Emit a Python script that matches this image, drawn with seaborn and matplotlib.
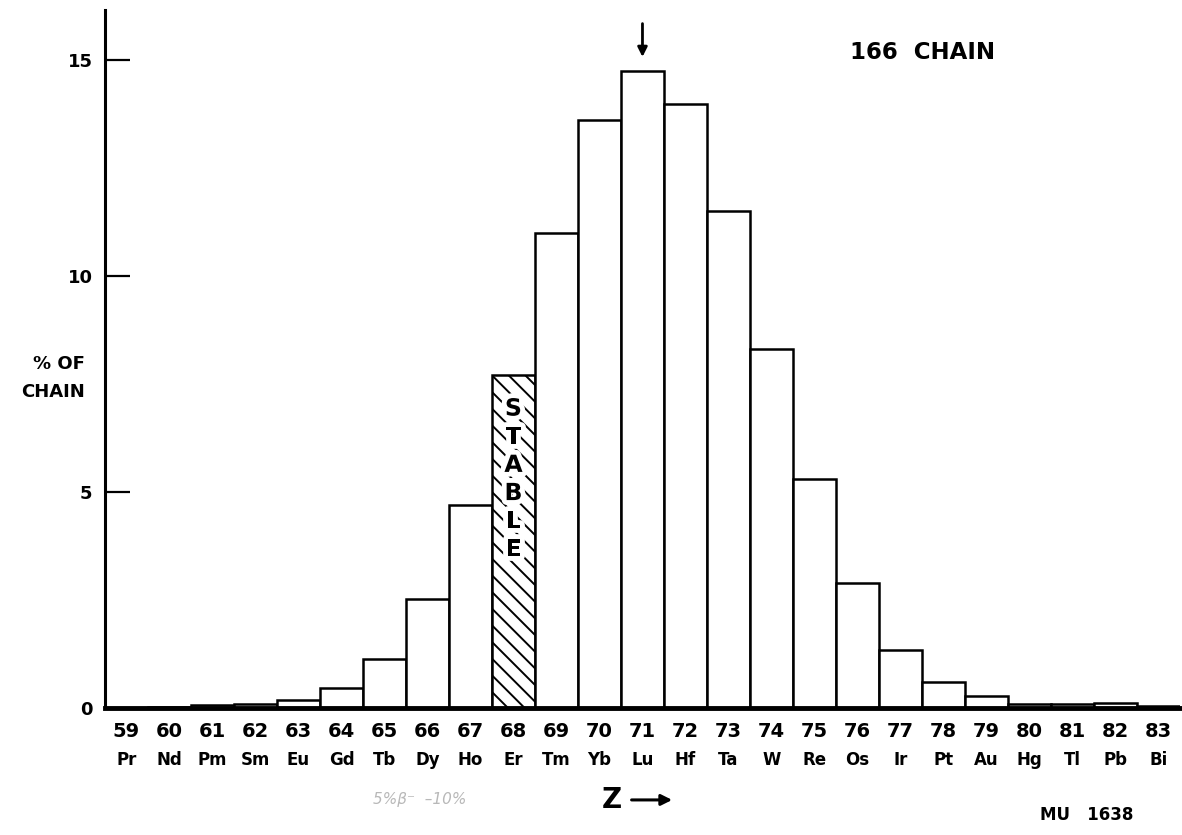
import matplotlib
matplotlib.use("Agg")
import matplotlib.pyplot as plt
import matplotlib.patheffects as pe
import seaborn as sns
import pandas as pd

# data
z_numbers = ["59", "60", "61", "62", "63", "64", "65", "66", "67", "68", "69", "70", "71",
             "72", "73", "74", "75", "76", "77", "78", "79", "80", "81", "82", "83"]
elements = ["Pr", "Nd", "Pm", "Sm", "Eu", "Gd", "Tb", "Dy", "Ho", "Er", "Tm", "Yb", "Lu",
            "Hf", "Ta", "W", "Re", "Os", "Ir", "Pt", "Au", "Hg", "Tl", "Pb", "Bi"]
percent_of_chain = [0.01, 0.02, 0.06, 0.10, 0.18, 0.47, 1.14, 2.53, 4.70, 7.70, 11.0, 13.6, 14.75,
                    13.98, 11.5, 8.3, 5.3, 2.9, 1.35, 0.6, 0.28, 0.10, 0.10, 0.12, 0.05]
y_ticks = [0, 5, 10, 15]
stable_element = "Er"
peak_element = "Lu"

sns.set_theme(style="white")
plt.rcParams["font.family"] = ["DejaVu Sans"]
plt.rcParams["font.weight"] = "bold"
plt.rcParams["hatch.linewidth"] = 1.4
plt.rcParams["hatch.color"] = "black"
for k in ["text.color", "axes.labelcolor", "xtick.color", "ytick.color"]:
    plt.rcParams[k] = "black"

df = pd.DataFrame({"Z": z_numbers, "element": elements, "pct": percent_of_chain})

fig = plt.figure(figsize=(11.82, 8.35), dpi=100)
ax = fig.add_axes([0.0888, 0.152, 0.9095, 0.836])

sns.barplot(data=df, x="element", y="pct", order=elements, color="white", saturation=1,
            width=1.0, edgecolor="black", linewidth=1.8, errorbar=None, ax=ax)

# stable isotope bar is hatched
er = elements.index(stable_element)
ax.patches[er].set_hatch("\\\\")
ax.text(er, 5.3, "S\nT\nA\nB\nL\nE", ha="center", va="center", fontsize=17,
        fontweight="bold", linespacing=1.22,
        path_effects=[pe.withStroke(linewidth=7, foreground="white")])

# arrow over the peak
lu = elements.index(peak_element)
ax.annotate("", xy=(lu, 15.0), xytext=(lu, 15.9),
            arrowprops=dict(arrowstyle="-|>", color="black", lw=2, mutation_scale=14))

ax.set_xlim(-0.5, len(elements) - 0.5)
ax.set_ylim(0, 16.15)
ax.set_yticks(y_ticks)
ax.set_yticklabels([str(t) for t in y_ticks])
ax.set_xticks(range(len(z_numbers)))
ax.set_xticklabels(z_numbers)
ax.set_xlabel("")
ax.set_ylabel("")
ax.tick_params(axis="x", length=0, pad=10, labelsize=14)
ax.tick_params(axis="y", direction="in", length=18, width=1.6, pad=9, labelsize=13,
               left=True, color="black")

for i, e in enumerate(elements):
    ax.annotate(e, xy=(i, 0), xycoords=("data", "axes fraction"), xytext=(0, -52),
                textcoords="offset pixels", ha="center", va="center",
                fontsize=12, fontweight="bold")

for s in ["top", "right"]:
    ax.spines[s].set_visible(False)
ax.spines["left"].set_linewidth(2.2)
ax.spines["left"].set_color("black")
ax.spines["bottom"].set_linewidth(3.5)
ax.spines["bottom"].set_color("black")

fig.text(0.072, 0.547, "% OF\nCHAIN", ha="right", va="center", multialignment="right",
         fontsize=13, fontweight="bold", linespacing=1.7)
fig.text(0.719, 0.937, "166  CHAIN", ha="left", va="center", fontsize=16.5, fontweight="bold")

# Z arrow under the axis
fig.text(0.518, 0.042, "Z", ha="center", va="center", fontsize=20, fontweight="bold")
ax.annotate("", xy=(0.571, 0.042), xytext=(0.532, 0.042), xycoords="figure fraction",
            arrowprops=dict(arrowstyle="-|>", color="black", lw=2.2, mutation_scale=16))

fig.text(0.919, 0.024, "MU   1638", ha="center", va="center", fontsize=12, fontweight="bold")
fig.text(0.355, 0.042, "5%β⁻  –10%", ha="center", va="center", fontsize=11,
         fontweight="normal", style="italic", color="#b8b8b8")

plt.savefig("out.png", dpi=100, facecolor="white")
plt.close()
